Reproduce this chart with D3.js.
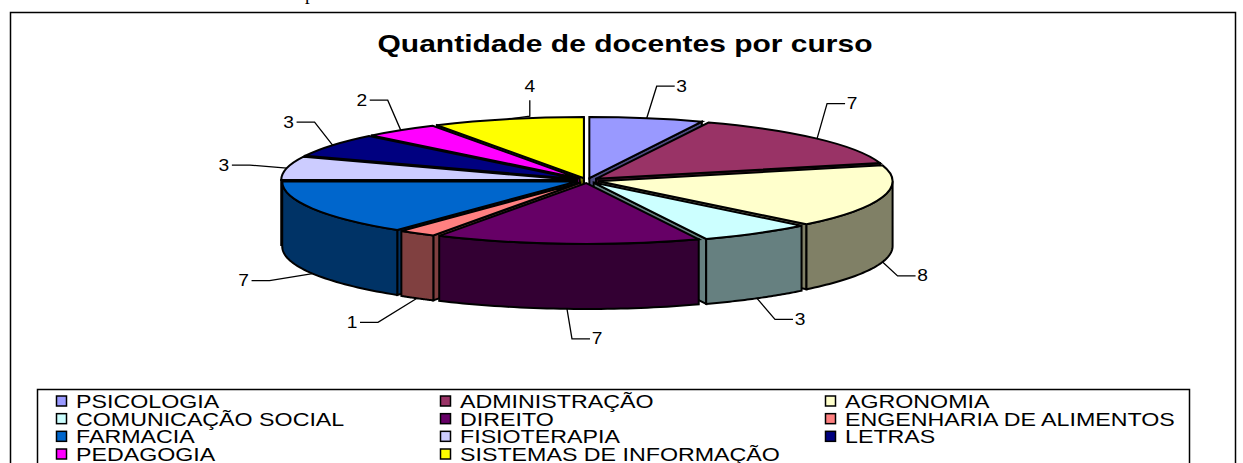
<!DOCTYPE html>
<html>
<head>
<meta charset="utf-8">
<script src="https://cdnjs.cloudflare.com/ajax/libs/d3/7.8.5/d3.min.js"></script>
<style>
  html, body { margin: 0; padding: 0; background: #fff; overflow: hidden; }
  svg { display: block; }
  text { font-family: "Liberation Sans", Arial, sans-serif; fill: #000; }
</style>
</head>
<body>
<script>
// Chart data
var cursos = ['PSICOLOGIA', 'ADMINISTRAÇÃO', 'AGRONOMIA', 'COMUNICAÇÃO SOCIAL', 'DIREITO',
  'ENGENHARIA DE ALIMENTOS', 'FARMACIA', 'FISIOTERAPIA', 'LETRAS', 'PEDAGOGIA', 'SISTEMAS DE INFORMAÇÃO'];
var docentes = [3, 7, 8, 3, 7, 1, 7, 3, 3, 2, 4];
var cores = ['#9999ff', '#993366', '#ffffcc', '#ccffff', '#660066',
  '#ff8080', '#0066cc', '#ccccff', '#000080', '#ff00ff', '#ffff00'];
var titulo = 'Quantidade de docentes por curso';

// Leader line bends, relative to where the line leaves the pie
var leaderBends = [[10, -32], [10, -35], [15, 14], [18, 21], [5, 30], [-39, 24], [-43, 7], [-37, -3], [-18, -23], [-13, -30], [22, -3]];

var width = 1243, height = 463;
var cx = 587, cy = 180.5, rx = 294, ry = 61, depth = 65;
var explodeX = 12, explodeY = 2.5;
var stretch = 1.29; // the original picture is wider than it should be

var svg = d3.select(document.body).append('svg').attr('width', width).attr('height', height);

// Cut-off letter of the document text above the chart
svg.append('text').attr('x', 305).attr('y', 0).style('font-family', '"Liberation Serif", serif').style('font-size', '19px').text('p');

// Outer frame, runs off the bottom of the page
svg.append('rect').attr('x', 10.5).attr('y', 12.5).attr('width', 1225).attr('height', 470)
  .attr('fill', '#fff').attr('stroke', '#000').attr('stroke-width', 1.5);

// Title
svg.append('text').attr('transform', 'translate(625,52) scale(1.25,1)')
  .attr('text-anchor', 'middle').style('font-size', '24px').style('font-weight', 'bold').text(titulo);

var pie = d3.pie().sort(null).startAngle(0).endAngle(2 * Math.PI);
var slices = pie(docentes).map(function(d, i) {
  var mid = (d.startAngle + d.endAngle) / 2;
  d.index = i;
  d.mid = mid;
  d.dx = explodeX * Math.sin(mid);
  d.dy = -explodeY * Math.cos(mid);
  return d;
});

function edgePoint(d, a) {
  return [cx + d.dx + rx * Math.sin(a), cy + d.dy - ry * Math.cos(a)];
}

function wallColor(c) {
  var rgb = d3.rgb(c);
  return d3.rgb(rgb.r / 2, rgb.g / 2, rgb.b / 2).formatHex();
}

var arc = d3.arc().innerRadius(0).outerRadius(rx);
var line = d3.line();
var gPie = svg.append('g').attr('id', 'pie');

// Painter's order, back slices first
var order = slices.slice().sort(function(a, b) { return Math.cos(b.mid) - Math.cos(a.mid); });

order.forEach(function(d) {
  var g = gPie.append('g');
  var wall = wallColor(cores[d.index]);
  var apex = [cx + d.dx, cy + d.dy];

  // radial cut faces, only those turned to the viewer
  var faces = [];
  if (Math.sin(d.startAngle) < 0) faces.push(d.startAngle);
  if (Math.sin(d.endAngle) > 0) faces.push(d.endAngle);
  faces.forEach(function(a) {
    var p = edgePoint(d, a);
    g.append('path')
      .attr('d', line([apex, p, [p[0], p[1] + depth], [apex[0], apex[1] + depth]]) + 'Z')
      .attr('fill', wall).attr('stroke', '#000').attr('stroke-width', 2);
  });

  // outer wall, only the part facing the viewer
  var a0 = Math.max(d.startAngle, Math.PI / 2), a1 = Math.min(d.endAngle, 3 * Math.PI / 2);
  if (a1 > a0) {
    var top = d3.range(0, 41).map(function(k) { return edgePoint(d, a0 + (a1 - a0) * k / 40); });
    var bottom = top.slice().reverse().map(function(p) { return [p[0], p[1] + depth]; });
    g.append('path').attr('d', line(top.concat(bottom)) + 'Z')
      .attr('fill', wall).attr('stroke', '#000').attr('stroke-width', 2);
  }

  // top face
  g.append('path').attr('d', arc(d))
    .attr('transform', 'translate(' + apex + ') scale(1,' + (ry / rx) + ')')
    .attr('fill', cores[d.index]).attr('stroke', '#000').attr('stroke-width', 2)
    .attr('vector-effect', 'non-scaling-stroke');
});

// Leader lines and value labels
var gLabels = svg.append('g').attr('id', 'labels');
slices.forEach(function(d) {
  var i = d.index;
  var p = edgePoint(d, d.mid);
  if (Math.cos(d.mid) < 0) p = [p[0], p[1] + depth];
  var bend = leaderBends[i];
  var b = [p[0] + bend[0], p[1] + bend[1]];
  var right = bend[0] > 0;
  var pts, lx, ly;
  if (i === slices.length - 1) {
    // the last one goes straight up with the label on top
    pts = [p, b, [b[0], b[1] - 16]];
    lx = b[0]; ly = b[1] - 30;
  } else {
    var e = [b[0] + (right ? 18 : -18), b[1]];
    pts = [p, b, e];
    lx = e[0] + (right ? 7 : -8); ly = b[1];
  }
  gLabels.append('path').attr('d', line(pts)).attr('fill', 'none').attr('stroke', '#000').attr('stroke-width', 1.3);
  gLabels.append('text').attr('transform', 'translate(' + lx + ',' + (ly + 5.5) + ') scale(1.2,1)')
    .attr('text-anchor', 'middle').style('font-size', '16px').text(docentes[i]);
});

// Legend, three columns, cut off by the bottom of the page
var gLegend = svg.append('g').attr('id', 'legend');
gLegend.append('rect').attr('x', 37.5).attr('y', 389.5).attr('width', 1152).attr('height', 90)
  .attr('fill', '#fff').attr('stroke', '#000').attr('stroke-width', 1.5);

var colX = d3.scaleOrdinal().domain([0, 1, 2]).range([56, 440, 825]);
var rowY = d3.scaleLinear().domain([0, 3]).range([401, 454]);

cursos.forEach(function(nome, i) {
  var col = i % 3, row = Math.floor(i / 3);
  var g = gLegend.append('g').attr('transform', 'translate(' + colX(col) + ',' + rowY(row) + ')');
  g.append('rect').attr('x', 0.5).attr('y', -5).attr('width', 10).attr('height', 10)
    .attr('fill', cores[i]).attr('stroke', '#000').attr('stroke-width', 1.5);
  g.append('text').attr('transform', 'translate(20,7) scale(' + stretch + ',1)')
    .style('font-size', '18px').text(nome);
});
</script>
</body>
</html>
